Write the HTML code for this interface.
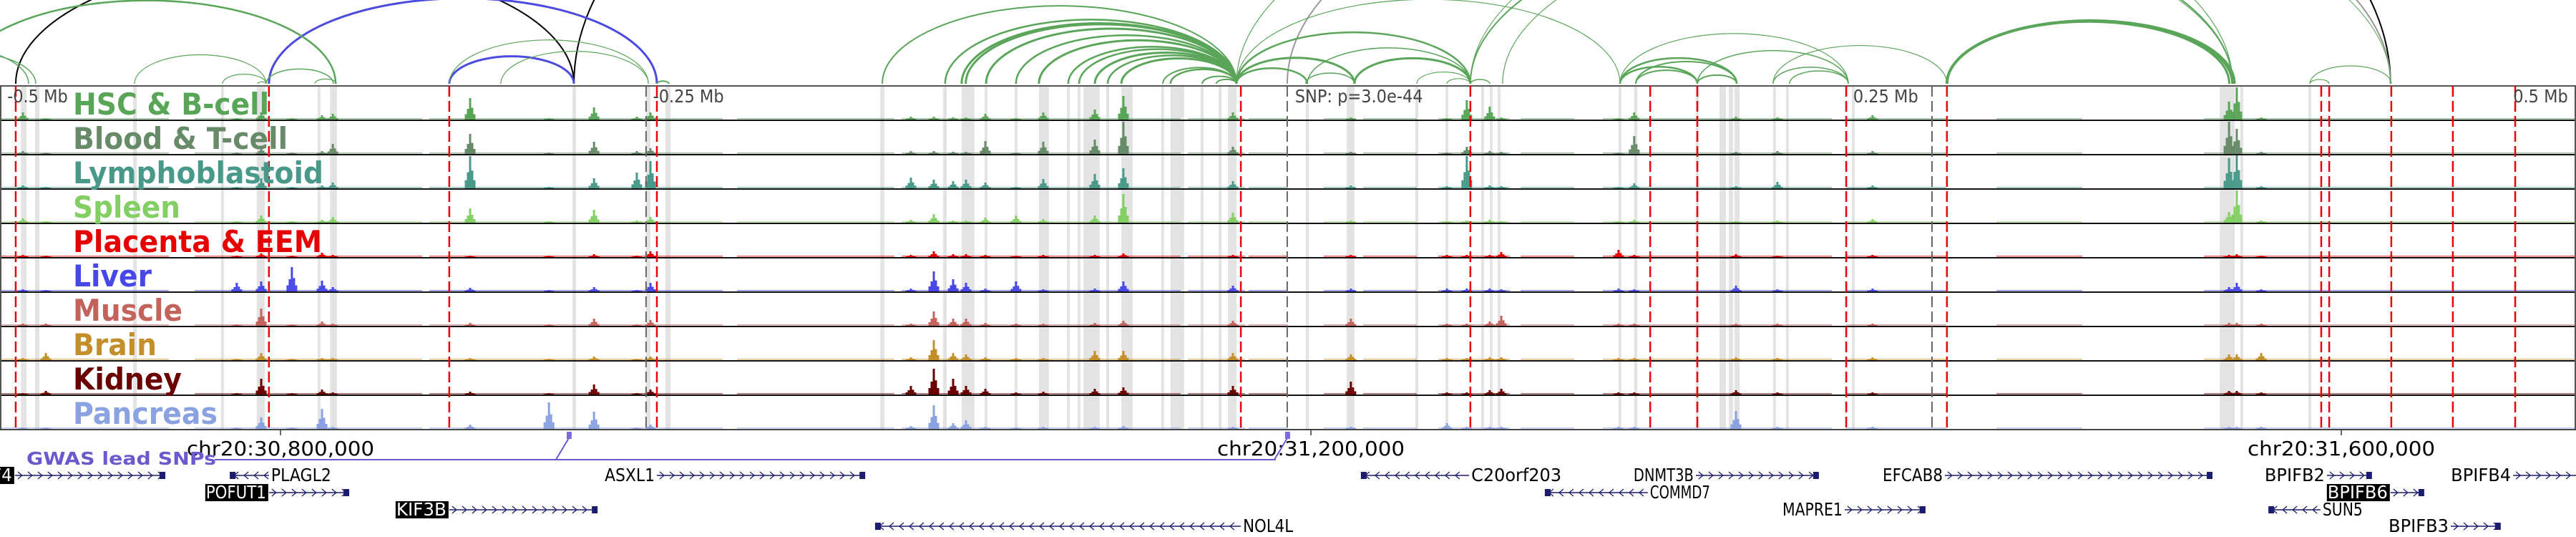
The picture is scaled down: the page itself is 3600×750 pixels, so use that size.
<!DOCTYPE html>
<html><head><meta charset="utf-8">
<style>
html,body{margin:0;padding:0;background:#fff;}
svg{display:block;}
text{font-family:"DejaVu Sans Condensed","DejaVu Sans","Liberation Sans",sans-serif;}
</style></head>
<body>
<svg id="fig" width="3600" height="750" viewBox="0 0 3600 750" xmlns="http://www.w3.org/2000/svg">
  <defs><clipPath id="arcclip"><rect x="0" y="0" width="3600" height="118"/></clipPath></defs>
  <g id="bands"></g>
  <g id="arcs" clip-path="url(#arcclip)"></g>
  <g id="tracks"></g>
  <g id="vlines"></g>
  <g id="labels"></g>
  <g id="axis"></g>
  <g id="genes"></g>
</svg>
<script>
// ---- data (genomic positions in kb on chr20) ----
const tickPositions = [30800, 31200, 31600];
const tickLabels = ["chr20:30,800,000", "chr20:31,200,000", "chr20:31,600,000"];
const redLines = [30697.2,30795.5,30865.5,30946.1,31172.8,31261.9,31331.7,31350.0,31407.8,31446.9,31592.2,31595.3,31619.4,31643.3,31667.5];
const grayLines = [30941.9,31190.8,31441.1];
const distLabels = ["-0.5 Mb","-0.25 Mb","SNP: p=3.0e-44","0.25 Mb","0.5 Mb"];
const distLabelPos = [30693.9,30944.6,31193.8,31410.5,31688];
const bands = [[30699.2,30701.4],[30704.7,30706.4],[30742.8,30744.2],[30776.9,30778.0],[30790.8,30793.9],[30814.4,30815.5],[30819.2,30821.9],[30913.3,30914.7],[30941.9,30943.6],[30949.4,30951.4],[31032.8,31034.4],[31057.2,31058.6],[31064.4,31069.4],[31073.3,31074.4],[31085.0,31086.1],[31094.4,31098.3],[31105.3,31106.4],[31109.4,31110.5],[31111.7,31118.0],[31120.5,31121.7],[31126.4,31130.8],[31141.9,31143.0],[31145.5,31150.8],[31157.2,31158.3],[31164.2,31165.3],[31167.8,31171.1],[31198.0,31199.2],[31213.9,31216.9],[31240.5,31241.7],[31252.2,31253.3],[31266.1,31267.2],[31269.4,31270.5],[31272.5,31273.6],[31319.4,31320.5],[31325.5,31326.7],[31349.4,31350.5],[31358.6,31361.1],[31362.2,31363.9],[31364.4,31366.4],[31379.4,31380.5],[31384.4,31385.5],[31410.0,31411.1],[31552.8,31558.6],[31560.8,31561.9],[31587.2,31588.3]];
const arcStarts = [30697.2,30913.9,30795.5,30865.5,31190.8,30635.5,30649.4,30674.4,30743.3,30777.5,30791.1,30794.4,30813.3,30865.5,30885.5,30946.1,31033.6,31058.0,31064.4,31066.0,31073.9,31085.5,31094.4,31105.8,31110.0,31116.1,31121.1,31126.4,31142.5,31145.5,31157.8,31163.3,31171.1,31171.1,31171.1,31171.1,31171.1,31198.0,31216.9,31198.6,31241.1,31252.8,31261.9,31261.9,31274.4,31261.9,31320.0,31326.1,31320.0,31326.1,31350.0,31350.0,31379.4,31385.8,31320.0,31379.4,31446.9,31446.9,31446.9,31587.8,31587.8];
const arcEnds = [30913.9,31619.1,30946.1,30913.9,31619.1,30702.2,30705.0,30821.4,30794.4,30794.4,30794.4,30820.5,30821.7,30942.8,30942.8,30950.8,31171.1,31171.1,31171.1,31171.1,31171.1,31171.1,31171.1,31171.1,31171.1,31171.1,31171.1,31171.1,31171.1,31171.1,31171.1,31171.1,31198.6,31216.9,31261.9,31320.0,31557.8,31216.9,31261.9,31261.9,31261.9,31261.9,31269.4,31557.8,31557.8,31619.1,31350.0,31350.0,31365.3,31365.3,31365.3,31408.6,31408.6,31408.6,31408.6,31446.9,31557.8,31558.6,31556.5,31595.3,31619.4];
const arcColors = ["k","k","b","b","g2","g","g","g","g","g","g","g","g","g","g","g","g","g","g","g","g","g","g","g","g","g","g","g","g","g","g","g","g","g","g","g","g","g","g","g","g","g","g","g","g","g","g","g","g","g","g","g","g","g","g","g","g","g","g","g","g"];
const arcWeights = [2,2,3,3,2,1.5,1.5,2.5,1.2,1.2,1.2,1.5,1.2,1.2,1.2,2,2,2.5,3,3,3,2.5,3,2.5,2.5,3,2.5,3,2,2.5,2,2,2.5,3,2.5,1.2,1.2,1.5,3,1.5,1.2,1.2,1.5,2,1.2,1,2.5,2,2.5,2,2,1.5,1.5,1.5,1.2,1.2,4,3,3,1.2,1.2];
const trackNames = ["HSC & B-cell","Blood & T-cell","Lymphoblastoid","Spleen","Placenta & EEM","Liver","Muscle","Brain","Kidney","Pancreas"];
const trackColors = ["#58a558","#678a68","#48998a","#84cf64","#e60000","#4848e8","#c4625c","#c48e2a","#6a0000","#8aa2e2"];
const peakPositions = [30700.0,30708.9,30783.0,30792.5,30804.4,30816.1,30820.3,30873.6,30904.2,30921.7,30938.3,30943.6,31044.7,31053.6,31061.1,31066.1,31073.6,31085.5,31096.1,31116.1,31127.2,31169.7,31215.5,31252.8,31260.5,31269.4,31273.9,31319.4,31325.5,31365.0,31381.1,31418.0,31556.4,31559.4,31568.9];
const hscValues    = [10,2,2,10,2,6,8,30,2,17,4,10,4,4,3,3,8,2,10,14,33,10,3,2,27,18,3,2,10,4,3,6,25,45,3];
const bloodValues  = [4,2,2,8,2,4,14,28,2,17,4,8,4,4,3,3,18,2,17,20,45,10,3,2,10,4,3,2,25,3,4,4,45,35,3];
const lymphValues  = [4,2,2,14,2,4,8,45,2,14,22,38,15,12,10,12,8,2,13,20,28,10,4,3,45,4,3,2,7,3,9,4,42,48,3];
const spleenValues = [6,2,2,10,2,4,8,20,2,18,3,8,4,12,3,3,7,10,5,10,40,14,3,2,3,4,2,2,4,2,3,5,15,45,3];
const placentaValues=[3,2,2,5,2,6,3,2,2,4,2,8,3,8,4,4,3,2,3,3,5,3,3,3,3,3,7,10,3,4,2,3,3,4,2];
const liverValues  = [3,2,12,14,34,15,6,5,2,6,2,12,4,28,17,12,4,14,3,4,14,8,4,4,4,4,3,4,3,8,3,4,6,12,3];
const muscleValues = [3,3,2,24,2,6,3,4,2,10,2,8,3,20,10,10,4,3,3,4,7,7,10,3,3,6,14,3,3,3,3,3,4,4,3];
const brainValues  = [3,10,2,10,2,3,3,3,2,5,2,5,4,28,10,8,4,3,3,13,13,10,8,3,3,4,4,3,3,4,3,4,8,8,10];
const kidneyValues = [2,5,2,22,2,7,3,4,2,14,2,7,12,36,22,12,8,3,4,8,10,12,18,3,3,6,8,3,3,6,3,3,5,5,3];
const pancreasValues=[2,2,2,16,2,28,3,6,37,24,2,6,4,33,8,12,3,2,3,3,4,3,3,8,3,3,3,3,3,25,3,3,3,3,3];
const coverage = [[30691.1,30756.7],[30766.7,30855.0],[30857.8,30971.7],[30977.2,31038.3],[31041.1,31149.4],[31152.2,31174.4],[31175.8,31191.1],[31205.0,31217.5],[31220.3,31241.1],[31249.4,31277.2],[31281.4,31302.2],[31313.3,31357.8],[31357.8,31402.2],[31407.8,31446.7],[31466.1,31499.4],[31546.7,31691.1]];
const snpPositions = [30911.9, 31190.8];
const geneNames  = ["F4","PLAGL2","ASXL1","C20orf203","DNMT3B","EFCAB8","BPIFB2","BPIFB4","POFUT1","COMMD7","BPIFB6","KIF3B","MAPRE1","SUN5","NOL4L","BPIFB3"];
const geneStarts = [30696.9,30780.3,30946.1,31219.4,31349.4,31446.1,31594.4,31666.7,30795.5,31290.8,31619.1,30865.5,31407.2,31571.7,31030.8,31642.5];
const geneEnds   = [30755.0,30795.5,31026.7,31261.4,31396.9,31549.7,31611.6,31702.2,30826.4,31330.8,31631.9,30922.8,31438.3,31591.9,31172.8,31661.6];
const geneStrand = ["+","-","+","-","+","+","+","+","+","-","+","+","+","-","-","+"];
const geneRows   = [0,0,0,0,0,0,0,0,1,1,1,2,2,2,3,3];
const geneBoxed  = [1,0,0,0,0,0,0,0,1,0,1,1,0,0,0,0];

// ---- scales ----
const ORIGIN = 30691.1, PXKB = 3.6;
const X = kb => (kb - ORIGIN) * PXKB;
const TOP = 120, TH = 48;
const NS = "http://www.w3.org/2000/svg";
function mk(tag, attrs, parent){ const e=document.createElementNS(NS,tag); for(const k in attrs) e.setAttribute(k,attrs[k]); parent.appendChild(e); return e; }
const G = id => document.getElementById(id);

bands.forEach(b=>{
  const r = mk("rect",{x:X(b[0]),y:TOP,width:Math.max(3,X(b[1])-X(b[0])),height:TH*10,fill:"#e3e3e3"},G("bands"));
  
  
});

const arcCol = {k:"#000",b:"#4b4be0",g:"#5aa55a",g2:"#999"};
arcStarts.forEach((s,i)=>{
  const x1=X(s), x2=X(arcEnds[i]), base=117, h=(x2-x1)*0.22, rx=(x2-x1)/2;
  const p = mk("path",{d:`M${x1},${base} A${rx},${h} 0 0 1 ${x2},${base}`,fill:"none",stroke:arcCol[arcColors[i]],"stroke-width":arcWeights[i]},G("arcs"));
  
  
});

const trackValues=[hscValues,bloodValues,lymphValues,spleenValues,placentaValues,liverValues,muscleValues,brainValues,kidneyValues,pancreasValues];
trackNames.forEach((name,t)=>{
  const g = mk("g",{},G("tracks"));
  
  
  const bottom = TOP+TH*(t+1)-1;
  const col = trackColors[t];
  coverage.forEach(c=>{ mk("rect",{x:X(c[0]),y:bottom-2,width:X(c[1])-X(c[0]),height:1.5,fill:col,"fill-opacity":0.6},g); });
  peakPositions.forEach((p,i)=>{
    const h=Math.min(46,trackValues[t][i]), x=X(p);
    const parts=[[-6,0.25],[-3,0.5],[0,1],[3,0.55],[6,0.25]];
    parts.forEach(q=>{ const hh=h*q[1]; mk("rect",{x:x+q[0]-1.5,y:bottom-hh,width:3,height:hh,fill:col},g); });
  });
  const line = mk("line",{x1:0,x2:3600,y1:TOP+TH*(t+1),y2:TOP+TH*(t+1),stroke:"#111","stroke-width":2},g);
  
  
});
mk("line",{x1:0,x2:3600,y1:TOP,y2:TOP,stroke:"#555","stroke-width":2},G("tracks"));
mk("line",{x1:1,x2:1,y1:TOP,y2:TOP+TH*10,stroke:"#555","stroke-width":2},G("tracks"));
mk("line",{x1:3599,x2:3599,y1:TOP,y2:TOP+TH*10,stroke:"#555","stroke-width":2},G("tracks"));

redLines.forEach(p=>{
  const l=mk("line",{x1:X(p),x2:X(p),y1:TOP,y2:TOP+TH*10,stroke:"#e8000b","stroke-width":2.5,"stroke-dasharray":"15,6"},G("vlines"));
  
  
});
grayLines.forEach(p=>{
  const l=mk("line",{x1:X(p),x2:X(p),y1:TOP,y2:TOP+TH*10,stroke:"#666","stroke-width":2,"stroke-dasharray":"15,6"},G("vlines"));
  
  
});
distLabels.forEach((s,i)=>{
  const t=mk("text",{x:X(distLabelPos[i]),y:143,"font-size":25,fill:"#444","text-anchor":i==4?"end":"start"},G("vlines"));
  t.textContent=s;
  
  
});

const labelWidths=[274,300,350,150,348,110,153,117,152,202];
trackNames.forEach((name,t)=>{
  const tx=mk("text",{x:102,y:TOP+TH*t+40,"font-size":42,"font-weight":"bold",fill:trackColors[t],textLength:labelWidths[t],lengthAdjust:"spacingAndGlyphs"},G("labels"));
  tx.textContent=name;
  
  
});

mk("line",{x1:0,x2:3600,y1:600,y2:600,stroke:"#444","stroke-width":2},G("axis"));
tickPositions.forEach((p,i)=>{
  mk("line",{x1:X(p),x2:X(p),y1:601,y2:608,stroke:"#333","stroke-width":1.5},G("axis"));
  const t=mk("text",{x:X(p),y:636,"font-size":28,fill:"#000","text-anchor":"middle",textLength:262,lengthAdjust:"spacingAndGlyphs"},G("axis"));
  t.textContent=tickLabels[i];
  
  
});
const gw=mk("text",{x:37,y:649,"font-size":25,"font-weight":"bold",fill:"#6a5acd",textLength:265,lengthAdjust:"spacingAndGlyphs"},G("axis"));
gw.textContent="GWAS lead SNPs";


const lastSnpX = X(snpPositions[snpPositions.length-1]);
mk("line",{x1:300,x2:lastSnpX-16,y1:642,y2:642,stroke:"#6a5acd","stroke-width":2},G("axis"));
snpPositions.forEach(p=>{
  const x=X(p);
  mk("path",{d:`M${x-18},642 L${x},612`,stroke:"#6a5acd","stroke-width":2,fill:"none"},G("axis"));
  const r=mk("rect",{x:x-3,y:603,width:7,height:10,fill:"#7a6ae0"},G("axis"));
  
  
});

const rowY=[664,688,712,735];
const NAVY="#1c1c6e";
geneNames.forEach((name,i)=>{
  const g=mk("g",{},G("genes"));
  
  
  const x1=X(geneStarts[i]), x2=X(geneEnds[i]), y=rowY[geneRows[i]], plus=geneStrand[i]=="+";
  mk("line",{x1:x1,x2:x2,y1:y,y2:y,stroke:NAVY,"stroke-width":1.5},g);
  for(let x=x1+8;x<x2-4;x+=14){
    const d=plus?`M${x-4},${y-5} L${x+2},${y} L${x-4},${y+5}`:`M${x+4},${y-5} L${x-2},${y} L${x+4},${y+5}`;
    mk("path",{d:d,stroke:NAVY,"stroke-width":1.3,fill:"none"},g);
  }
  const ex = plus? x2-7 : x1;
  mk("rect",{x:ex,y:y-5,width:8,height:10,fill:NAVY},g);
  const fs=25, tw=name.length*14;
  const lx = plus? x1-3 : x2+3;
  if(geneBoxed[i]){
    const bx = plus? lx-tw-2 : lx;
    mk("rect",{x:bx,y:y-12,width:tw+4,height:24,fill:"#000"},g);
  }
  const t=mk("text",{x:lx-(plus&&geneBoxed[i]?1:0),y:y+8,"font-size":fs,fill:geneBoxed[i]?"#fff":"#000","text-anchor":plus?"end":"start",textLength:tw,lengthAdjust:"spacingAndGlyphs"},g);
  t.textContent=name;
});
</script>
</body></html>
